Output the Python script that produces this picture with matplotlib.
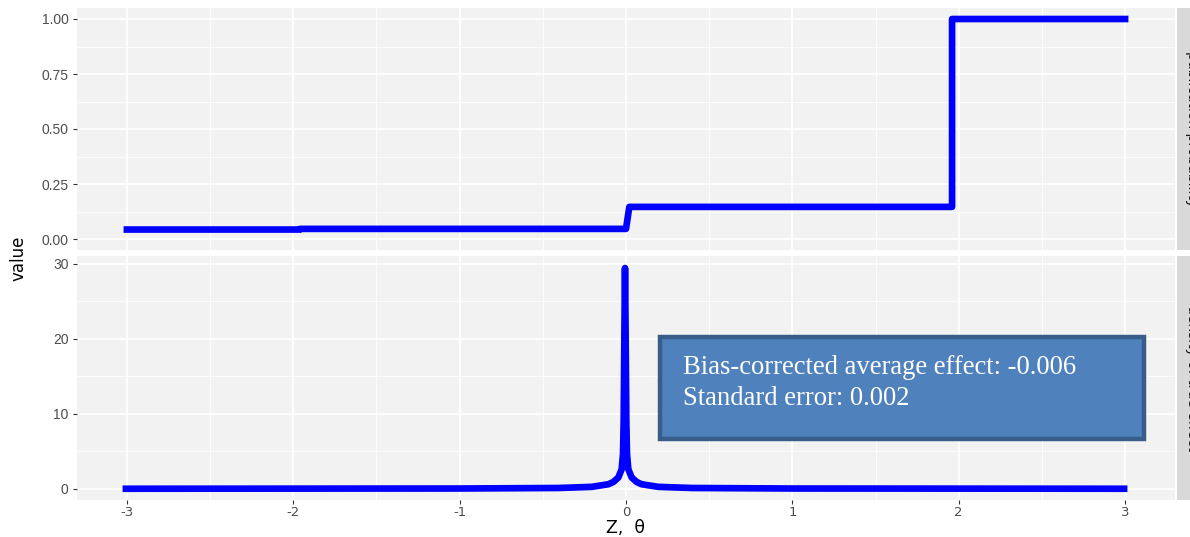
import matplotlib
matplotlib.use("Agg")
import matplotlib.pyplot as plt
from matplotlib.patches import Rectangle

# publication probability (step function of Z)
z_pub = [-3.0, -1.96, -1.96, 0.0, 0.02, 1.96, 1.96, 3.0]
p_pub = [0.043, 0.043, 0.046, 0.046, 0.146, 0.146, 1.0, 1.0]

# density of true effect
theta = [-3.0, -1.0, -0.4, -0.2, -0.1, -0.07, -0.04, -0.02, -0.012, -0.008, -0.004,
         0.0, 0.004, 0.008, 0.012, 0.02, 0.04, 0.07, 0.1, 0.2, 0.4, 1.0, 3.0]
theta = [t - 0.006 for t in theta]
dens = [0.0, 0.03, 0.1, 0.25, 0.6, 0.9, 1.5, 2.6, 4.6, 9.0, 20.0,
        29.4, 20.0, 9.0, 4.6, 2.6, 1.5, 0.9, 0.6, 0.25, 0.1, 0.03, 0.0]

xticks = [-3, -2, -1, 0, 1, 2, 3]
yticks_top = [0.0, 0.25, 0.5, 0.75, 1.0]
yticks_bot = [0, 10, 20, 30]
strips = ["publication probability", "density of true effect"]
box_text = "Bias-corrected average effect: -0.006\nStandard error: 0.002"

W, H = 1190, 537
fig = plt.figure(figsize=(W / 100, H / 100), dpi=100)
fig.patch.set_facecolor("white")
narrow = ["Liberation Sans Narrow", "DejaVu Sans"]
arial = ["Liberation Sans", "DejaVu Sans"]


def px_axes(l, t, r, b):
    return fig.add_axes([l / W, 1 - b / H, (r - l) / W, (b - t) / H])


def style(ax, yt, ylab, ylim, minor_y):
    ax.set_facecolor("#F2F2F2")
    ax.set_xlim(-3.3, 3.3)
    ax.set_ylim(*ylim)
    for s in ax.spines.values():
        s.set_visible(False)
    for x in xticks:
        ax.axvline(x, color="white", lw=1.3, zorder=1)
    for x in [-2.5, -1.5, -0.5, 0.5, 1.5, 2.5]:
        ax.axvline(x, color="white", lw=0.6, zorder=1)
    for y in yt:
        ax.axhline(y, color="white", lw=1.3, zorder=1)
    for y in minor_y:
        ax.axhline(y, color="white", lw=0.6, zorder=1)
    ax.set_yticks(yt)
    ax.set_yticklabels(ylab, color="#4D4D4D", fontsize=10, family=arial)
    ax.tick_params(axis="y", length=3, color="#333333", pad=3)
    ax.set_xticks(xticks)


ax1 = px_axes(77, 8, 1175, 250)
style(ax1, yticks_top, ["0.00", "0.25", "0.50", "0.75", "1.00"], (-0.05, 1.05),
      [0.125, 0.375, 0.625, 0.875])
ax1.tick_params(axis="x", length=0, labelbottom=False)
ax1.plot(z_pub, p_pub, color="blue", lw=4.8, solid_joinstyle="round", zorder=3)

ax2 = px_axes(77, 256, 1175, 500)
style(ax2, yticks_bot, ["0", "10", "20", "30"], (-1.5, 31.0), [5, 15, 25])
ax2.set_xticklabels([str(x) for x in xticks], color="#4D4D4D", fontsize=9.5,
                    family=narrow)
ax2.tick_params(axis="x", length=3, color="#333333", pad=1.5)
ax2.plot(theta, dens, color="blue", lw=4.8, solid_joinstyle="round", zorder=3)

fig.text(626 / W, 1 - 528 / H, "Z,  θ", ha="center", va="center",
         fontsize=12.5, family=narrow)
fig.text(18 / W, 1 - 258 / H, "value", rotation=90, ha="center", va="center",
         fontsize=12, family=narrow)

# facet strips (cut by the right edge)
for (t, b), lab in zip([(8, 250), (256, 500)], strips):
    fig.patches.append(Rectangle((1177 / W, 1 - b / H), 30 / W, (b - t) / H,
                                 transform=fig.transFigure, facecolor="#D9D9D9",
                                 edgecolor="none"))
    fig.text(1192 / W, 1 - (t + b) / 2 / H, lab, rotation=-90, ha="center",
             va="center", fontsize=10, color="#1A1A1A")

# annotation box
fig.patches.append(Rectangle((660 / W, 1 - 439 / H), 484 / W, 102 / H,
                             transform=fig.transFigure, facecolor="#4F81BD",
                             edgecolor="#385D8A", lw=3.2, zorder=5))
fig.text(683 / W, 1 - 355 / H, box_text, ha="left", va="top", fontsize=19.2,
         color="white", family=["Liberation Serif", "DejaVu Serif"],
         linespacing=1.32, zorder=6)

fig.savefig("out.png", dpi=100)
